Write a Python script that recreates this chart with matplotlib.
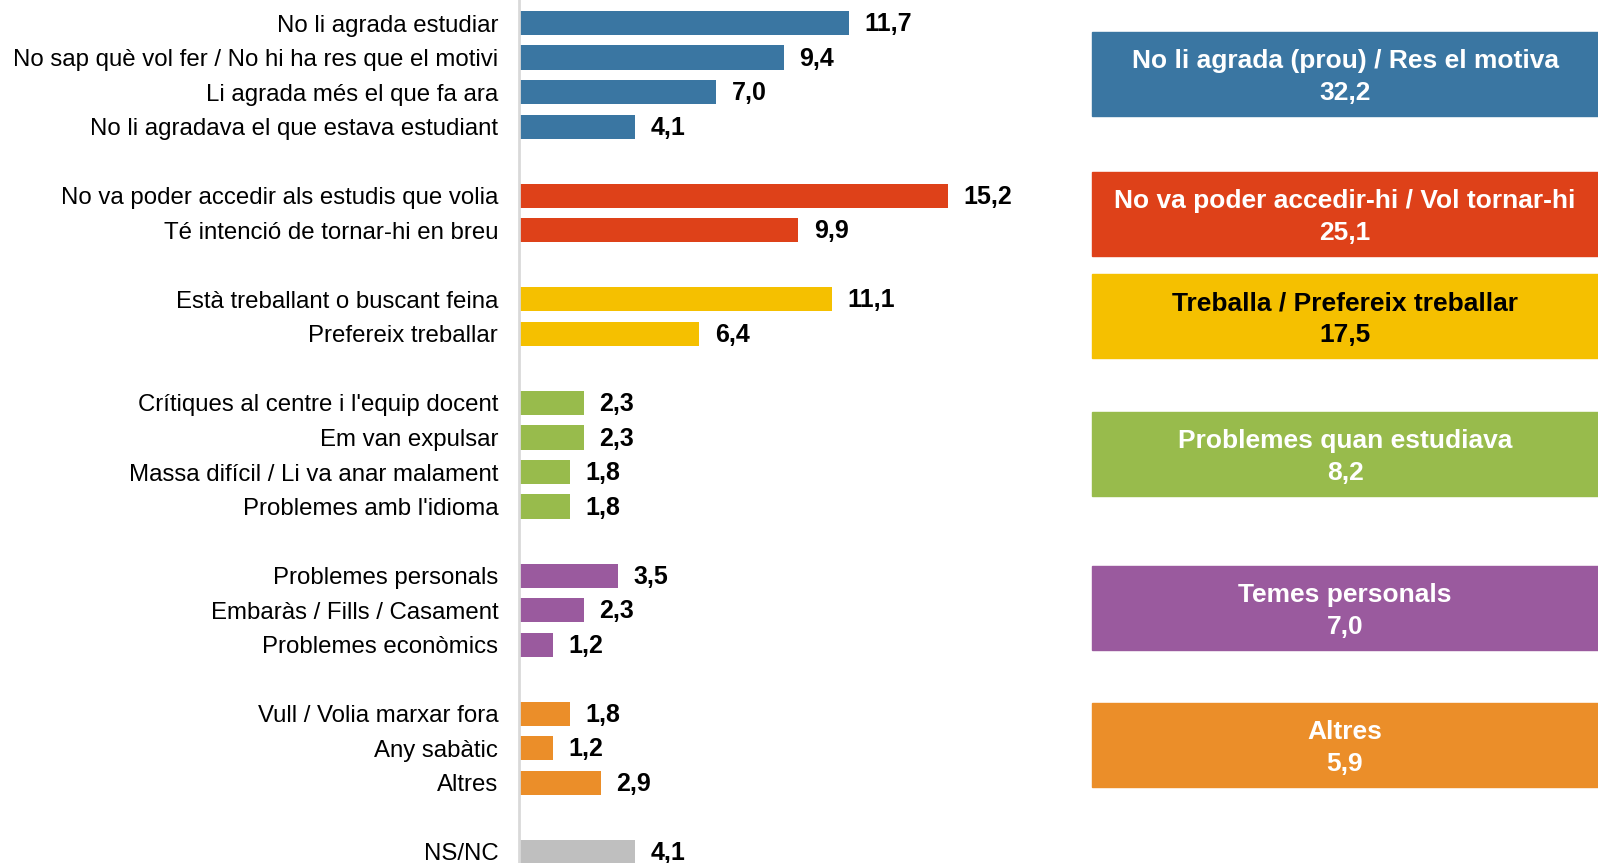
import matplotlib.pyplot as plt
from matplotlib.patches import Rectangle

plt.rcParams['font.family'] = ['Liberation Sans', 'DejaVu Sans']

# Motius d'abandonament dels estudis (%)
labels = [
    ["No li agrada estudiar", "No sap què vol fer / No hi ha res que el motivi",
     "Li agrada més el que fa ara", "No li agradava el que estava estudiant"],
    ["No va poder accedir als estudis que volia", "Té intenció de tornar-hi en breu"],
    ["Està treballant o buscant feina", "Prefereix treballar"],
    ["Crítiques al centre i l'equip docent", "Em van expulsar",
     "Massa difícil / Li va anar malament", "Problemes amb l'idioma"],
    ["Problemes personals", "Embaràs / Fills / Casament", "Problemes econòmics"],
    ["Vull / Volia marxar fora", "Any sabàtic", "Altres"],
    ["NS/NC"],
]
values = [
    [11.7, 9.4, 7.0, 4.1],
    [15.2, 9.9],
    [11.1, 6.4],
    [2.3, 2.3, 1.8, 1.8],
    [3.5, 2.3, 1.2],
    [1.8, 1.2, 2.9],
    [4.1],
]
colors = ['#3A76A2', '#DE4119', '#F5C000', '#98BB4C', '#9A5A9E', '#EB8E29', '#BFBFBF']
group_names = ["No li agrada (prou) / Res el motiva", "No va poder accedir-hi / Vol tornar-hi",
               "Treballa / Prefereix treballar", "Problemes quan estudiava",
               "Temes personals", "Altres"]
group_totals = [32.2, 25.1, 17.5, 8.2, 7.0, 5.9]
group_text = ['white', 'white', 'black', 'white', 'white', 'white']
# box top in pixels (from top of figure)
box_tops = [32, 172, 274, 412, 566, 703]

W, H = 1598, 863
fig = plt.figure(figsize=(W / 100, H / 100), dpi=100)
left = 519
ax = fig.add_axes([left / W, 0, (W - left) / W, 1])

ypos, ylabels, yvals, ycols = [], [], [], []
slot = 0
for g, (labs, vals) in enumerate(zip(labels, values)):
    for lab, v in zip(labs, vals):
        ypos.append(slot)
        ylabels.append(lab)
        yvals.append(v)
        ycols.append(colors[g])
        slot += 1
    slot += 1

ax.barh(ypos, yvals, height=0.7, color=ycols)
for y, v in zip(ypos, yvals):
    ax.text(v + 0.55, y + 0.03, f"{v:.1f}".replace('.', ','), va='center', ha='left',
            fontsize=18, fontweight='bold', color='black')

ax.set_xlim(0, (W - left) / 28.2)
ax.set_ylim(24.32, -0.666)
ax.set_yticks(ypos)
ax.set_yticklabels(ylabels, fontsize=17.3)
ax.tick_params(axis='y', length=0, pad=15)
ax.set_xticks([])
for s in ['top', 'right', 'bottom']:
    ax.spines[s].set_visible(False)
ax.spines['left'].set_color('#D9D9D9')
ax.spines['left'].set_linewidth(2)

bx0, bh = 1092, 84
for name, tot, col, tc, top in zip(group_names, group_totals, colors, group_text, box_tops):
    fig.patches.append(Rectangle((bx0 / W, 1 - (top + bh) / H), (W - bx0) / W, bh / H,
                                 transform=fig.transFigure, color=col, zorder=0))
    cx = (bx0 + W) / 2 / W
    fig.text(cx, 1 - (top + bh * 0.35) / H, name, ha='center', va='center',
             fontsize=19, fontweight='bold', color=tc)
    fig.text(cx, 1 - (top + bh * 0.725) / H, f"{tot:.1f}".replace('.', ','), ha='center',
             va='center', fontsize=19, fontweight='bold', color=tc)

fig.savefig('out.png', dpi=100)
